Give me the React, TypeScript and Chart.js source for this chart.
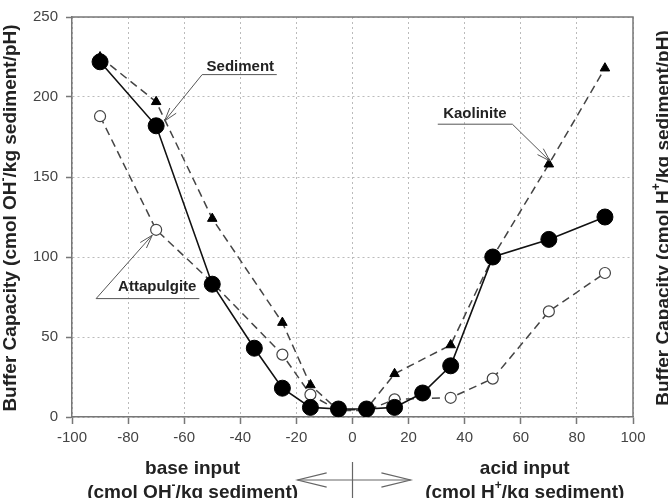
import React, { useEffect, useRef } from "react";
import { Chart, registerables } from "chart.js";

Chart.register(...registerables);

// ---- data ----
const sedimentX = [-90, -70, -50, -35, -25, -15, -5, 5, 15, 25, 35, 50, 70, 90];
const sedimentY = [222, 182, 83, 43, 18, 6, 5, 5, 6, 15, 32, 100, 111, 125];

const kaoliniteX = [-90, -70, -50, -25, -15, -5, 5, 15, 35, 50, 70, 90];
const kaoliniteY = [225, 197, 124, 59, 20, 4, 5, 27, 45, 100, 158, 218];

const attapulgiteX = [-90, -70, -50, -25, -15, -5, 5, 15, 35, 50, 70, 90];
const attapulgiteY = [188, 117, 84, 39, 14, 4, 4, 11, 12, 24, 66, 90];

const xTickMin = -100;
const xTickMax = 100;
const xTickStep = 20;
const yTickMin = 0;
const yTickMax = 250;
const yTickStep = 50;

type Seg = { t: string; sup?: boolean };
const leftTitle: Seg[] = [
  { t: "Buffer Capacity (cmol OH" },
  { t: "-", sup: true },
  { t: "/kg sediment/pH)" },
];
const rightTitle: Seg[] = [
  { t: "Buffer Capacity (cmol H" },
  { t: "+", sup: true },
  { t: "/kg sediment/pH)" },
];
const baseLabel = "base input";
const baseUnit: Seg[] = [{ t: "(cmol OH" }, { t: "-", sup: true }, { t: "/kg sediment)" }];
const acidLabel = "acid input";
const acidUnit: Seg[] = [{ t: "(cmol H" }, { t: "+", sup: true }, { t: "/kg sediment)" }];

// annotation callouts (data units)
const callouts = [
  { label: "Sediment", tx: -40, ty: 219, ux0: -53.6, ux1: -27, uy: 214, fromX: -53.6, tipX: -67, tipY: 185 },
  { label: "Kaolinite", tx: 43.6, ty: 189.5, ux0: 30.4, ux1: 57, uy: 183, fromX: 57, tipX: 70.4, tipY: 160 },
  { label: "Attapulgite", tx: -69.6, ty: 81.5, ux0: -91.4, ux1: -54.6, uy: 74, fromX: -91.4, tipX: -71.4, tipY: 113.6 },
];

const FONT = '"Liberation Sans", Arial, Helvetica, sans-serif';

function toPts(xs: number[], ys: number[]) {
  return xs.map((x, i) => ({ x, y: ys[i] }));
}

function richWidth(ctx: CanvasRenderingContext2D, segs: Seg[], size: number) {
  let w = 0;
  for (const s of segs) {
    ctx.font = s.sup ? `bold ${Math.round(size * 0.62)}px ${FONT}` : `bold ${size}px ${FONT}`;
    w += ctx.measureText(s.t).width;
  }
  return w;
}

function drawRich(ctx: CanvasRenderingContext2D, segs: Seg[], cx: number, cy: number, size: number) {
  const w = richWidth(ctx, segs, size);
  let x = cx - w / 2;
  ctx.textAlign = "left";
  ctx.textBaseline = "middle";
  for (const s of segs) {
    ctx.font = s.sup ? `bold ${Math.round(size * 0.62)}px ${FONT}` : `bold ${size}px ${FONT}`;
    ctx.fillText(s.t, x, s.sup ? cy - size * 0.38 : cy);
    x += ctx.measureText(s.t).width;
  }
}

function openHead(ctx: CanvasRenderingContext2D, x0: number, y0: number, x1: number, y1: number, len: number, ang: number) {
  const a = Math.atan2(y1 - y0, x1 - x0);
  ctx.beginPath();
  ctx.moveTo(x1 - len * Math.cos(a - ang), y1 - len * Math.sin(a - ang));
  ctx.lineTo(x1, y1);
  ctx.lineTo(x1 - len * Math.cos(a + ang), y1 - len * Math.sin(a + ang));
  ctx.stroke();
}

const decorPlugin = {
  id: "decor",
  beforeDatasetsDraw(chart: any) {
    const { ctx, chartArea: a } = chart;
    ctx.save();
    ctx.strokeStyle = "#777";
    ctx.lineWidth = 1.5;
    ctx.beginPath();
    ctx.moveTo(a.left, a.top);
    ctx.lineTo(a.right, a.top);
    ctx.lineTo(a.right, a.bottom);
    ctx.stroke();
    ctx.restore();
  },
  afterDraw(chart: any) {
    const { ctx, chartArea: a } = chart;
    const xs = chart.scales.x;
    const ys = chart.scales.y;
    ctx.save();
    ctx.fillStyle = "#222";

    // left title
    ctx.save();
    ctx.translate(11, (a.top + a.bottom) / 2 + 1);
    ctx.rotate(-Math.PI / 2);
    drawRich(ctx, leftTitle, 0, 0, 19);
    ctx.restore();

    // right title
    ctx.save();
    ctx.translate(664, (a.top + a.bottom) / 2 + 1);
    ctx.rotate(-Math.PI / 2);
    drawRich(ctx, rightTitle, 0, 0, 19);
    ctx.restore();

    // bottom labels
    ctx.font = `bold 19px ${FONT}`;
    ctx.textAlign = "center";
    ctx.textBaseline = "middle";
    ctx.fillText(baseLabel, xs.getPixelForValue(-57), a.bottom + 52);
    ctx.fillText(acidLabel, xs.getPixelForValue(61.4), a.bottom + 52);
    drawRich(ctx, baseUnit, xs.getPixelForValue(-57), a.bottom + 76, 19);
    drawRich(ctx, acidUnit, xs.getPixelForValue(61.4), a.bottom + 76, 19);

    // double arrow + vertical line
    ctx.strokeStyle = "#666";
    ctx.lineWidth = 1.2;
    const ax0 = xs.getPixelForValue(-19.6);
    const ax1 = xs.getPixelForValue(20.7);
    const ay = a.bottom + 63;
    ctx.beginPath();
    ctx.moveTo(ax0, ay);
    ctx.lineTo(ax1, ay);
    ctx.stroke();
    openHead(ctx, ax1, ay, ax0, ay, 30, 0.24);
    openHead(ctx, ax0, ay, ax1, ay, 30, 0.24);
    const zx = xs.getPixelForValue(0);
    ctx.beginPath();
    ctx.moveTo(zx, a.bottom + 45);
    ctx.lineTo(zx, a.bottom + 90);
    ctx.stroke();

    // callouts
    for (const c of callouts) {
      ctx.fillStyle = "#222";
      ctx.font = `bold 15px ${FONT}`;
      ctx.textAlign = "center";
      ctx.textBaseline = "middle";
      ctx.fillText(c.label, xs.getPixelForValue(c.tx), ys.getPixelForValue(c.ty));
      ctx.strokeStyle = "#555";
      ctx.lineWidth = 1;
      const uy = ys.getPixelForValue(c.uy);
      ctx.beginPath();
      ctx.moveTo(xs.getPixelForValue(c.ux0), uy);
      ctx.lineTo(xs.getPixelForValue(c.ux1), uy);
      ctx.stroke();
      const fx = xs.getPixelForValue(c.fromX);
      const tx = xs.getPixelForValue(c.tipX);
      const ty = ys.getPixelForValue(c.tipY);
      ctx.beginPath();
      ctx.moveTo(fx, uy);
      ctx.lineTo(tx, ty);
      ctx.stroke();
      openHead(ctx, fx, uy, tx, ty, 14, 0.3);
    }
    ctx.restore();
  },
};

export default function App() {
  const ref = useRef<HTMLCanvasElement>(null);
  useEffect(() => {
    document.body.style.margin = "0";
    const dash = [8, 5];
    const chart = new Chart(ref.current!, {
      type: "scatter",
      data: {
        datasets: [
          {
            label: "Sediment",
            data: toPts(sedimentX, sedimentY),
            showLine: true,
            borderColor: "#111",
            backgroundColor: "#000",
            borderWidth: 1.6,
            pointRadius: 8,
            pointBorderWidth: 1,
            pointBorderColor: "#000",
            pointBackgroundColor: "#000",
            pointStyle: "circle",
          },
          {
            label: "Kaolinite",
            data: toPts(kaoliniteX, kaoliniteY),
            showLine: true,
            borderColor: "#444",
            borderDash: dash,
            borderWidth: 1.5,
            pointRadius: 5.5,
            pointBorderWidth: 1,
            pointBorderColor: "#000",
            pointBackgroundColor: "#000",
            pointStyle: "triangle",
          },
          {
            label: "Attapulgite",
            data: toPts(attapulgiteX, attapulgiteY),
            showLine: true,
            borderColor: "#444",
            borderDash: dash,
            borderWidth: 1.5,
            pointRadius: 5.5,
            pointBorderWidth: 1.2,
            pointBorderColor: "#444",
            pointBackgroundColor: "#fff",
            pointStyle: "circle",
          },
        ],
      },
      options: {
        responsive: false,
        animation: false,
        devicePixelRatio: 1,
        layout: { padding: { top: 12, right: 35, left: 0, bottom: 0 } },
        plugins: { legend: { display: false }, tooltip: { enabled: false } },
        scales: {
          x: {
            type: "linear",
            min: xTickMin,
            max: xTickMax,
            ticks: { stepSize: xTickStep, color: "#444", font: { family: FONT, size: 15 }, padding: 5, maxRotation: 0 },
            grid: {
              color: "#bbb",
              lineWidth: 1,
              drawTicks: true,
              tickLength: 7,
              tickColor: "#777",
              tickWidth: 1.5,
              tickBorderDash: [],
            } as any,
            border: { display: true, color: "#777", width: 1.5, dash: [2, 3] } as any,
            afterFit: (s: any) => {
              s.height = 81;
            },
          },
          y: {
            type: "linear",
            min: yTickMin,
            max: yTickMax,
            ticks: { stepSize: yTickStep, color: "#444", font: { family: FONT, size: 15 }, padding: 8 },
            grid: {
              color: "#bbb",
              lineWidth: 1,
              drawTicks: true,
              tickLength: 6,
              tickColor: "#777",
              tickWidth: 1.5,
              tickBorderDash: [],
            } as any,
            border: { display: true, color: "#777", width: 1.5, dash: [2, 3] } as any,
            afterFit: (s: any) => {
              s.width = 72;
            },
          },
        },
      },
      plugins: [decorPlugin],
    } as any);
    return () => chart.destroy();
  }, []);
  return (
    <div style={{ position: "relative", width: 668, height: 498 }}>
      <canvas ref={ref} width={668} height={498} />
    </div>
  );
}
